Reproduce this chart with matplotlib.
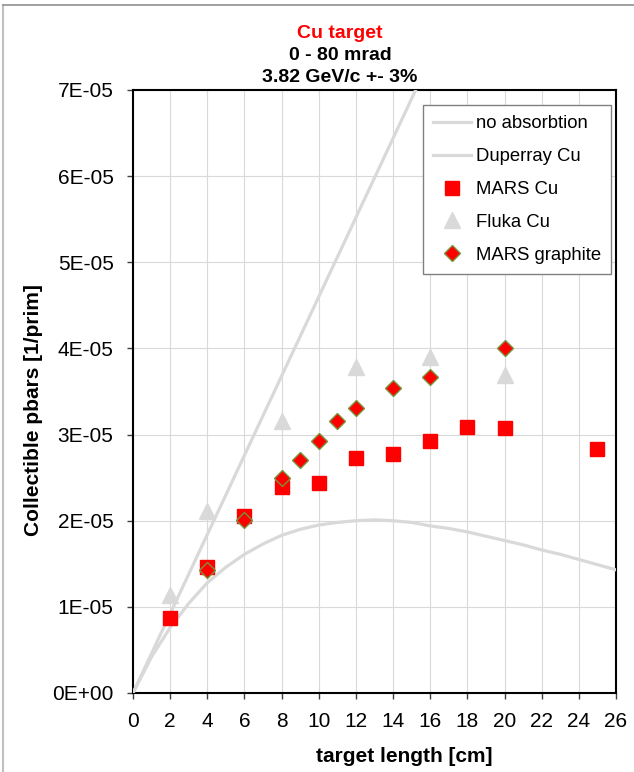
import matplotlib
matplotlib.use("Agg")
import matplotlib.pyplot as plt
from matplotlib.lines import Line2D
from matplotlib.ticker import FuncFormatter, MultipleLocator

plt.rcParams["font.family"] = ["Liberation Sans", "DejaVu Sans"]

# ── data ─────────────────────────────────────────────────────────
no_abs_x = [0, 2, 4, 6, 8, 10, 12, 14, 16]
no_abs_y = [0, 0.92e-5, 1.84e-5, 2.76e-5, 3.68e-5, 4.60e-5, 5.52e-5, 6.44e-5, 7.36e-5]

duperray_x = list(range(0, 27))
duperray_y = [0, 0.42e-5, 0.76e-5, 1.04e-5, 1.28e-5, 1.46e-5, 1.61e-5, 1.73e-5,
              1.83e-5, 1.90e-5, 1.95e-5, 1.98e-5, 2.00e-5, 2.01e-5, 2.00e-5,
              1.98e-5, 1.94e-5, 1.91e-5, 1.87e-5, 1.82e-5, 1.77e-5, 1.72e-5,
              1.66e-5, 1.61e-5, 1.55e-5, 1.49e-5, 1.43e-5]

mars_cu_x = [2, 4, 6, 8, 10, 12, 14, 16, 18, 20, 25]
mars_cu_y = [0.87e-5, 1.46e-5, 2.06e-5, 2.39e-5, 2.44e-5, 2.73e-5, 2.78e-5,
             2.92e-5, 3.09e-5, 3.08e-5, 2.83e-5]

fluka_x = [2, 4, 8, 12, 16, 20]
fluka_y = [1.14e-5, 2.11e-5, 3.16e-5, 3.79e-5, 3.90e-5, 3.69e-5]

graphite_x = [4, 6, 8, 9, 10, 11, 12, 14, 16, 20]
graphite_y = [1.43e-5, 2.01e-5, 2.50e-5, 2.71e-5, 2.93e-5, 3.16e-5, 3.31e-5,
              3.54e-5, 3.67e-5, 4.00e-5]

GRAY = "#D9D9D9"

fig = plt.figure(figsize=(6.34, 7.72), dpi=100)
ax = fig.add_axes([133 / 634, 1 - 693 / 772, 483 / 634, 603 / 772])

# outer chart frame (light gray, runs off the right/bottom edge)
fig.add_artist(Line2D([3 / 634, 3 / 634], [0, 1 - 5 / 772], transform=fig.transFigure,
                      color="#C0C0C0", lw=1.5))
fig.add_artist(Line2D([3 / 634, 1], [1 - 5 / 772, 1 - 5 / 772], transform=fig.transFigure,
                      color="#909090", lw=1.2))

ax.plot(no_abs_x, no_abs_y, color=GRAY, lw=2.3, label="no absorbtion", zorder=3)
ax.plot(duperray_x, duperray_y, color=GRAY, lw=2.3, label="Duperray Cu", zorder=3)
ax.plot(mars_cu_x, mars_cu_y, "s", color="#FF0000", ms=10, mec="#FF0000",
        label="MARS Cu", zorder=4)
ax.plot(fluka_x, fluka_y, "^", color=GRAY, ms=11, mec=GRAY, label="Fluka Cu", zorder=4)
ax.plot(graphite_x, graphite_y, "D", color="#FF0000", ms=8.5, mec="#77933C", mew=1.0,
        label="MARS graphite", zorder=5)

ax.set_xlim(0, 26)
ax.set_ylim(0, 7e-5)
ax.xaxis.set_major_locator(MultipleLocator(2))
ax.yaxis.set_major_locator(MultipleLocator(1e-5))
ax.yaxis.set_major_formatter(FuncFormatter(lambda v, p: f"{v:.0E}"))
ax.grid(True, color=GRAY, lw=0.8, zorder=0)
ax.set_axisbelow(True)
for s in ax.spines.values():
    s.set_color("black")
    s.set_linewidth(1.5)
ax.tick_params(direction="out", length=4, width=1, pad=10, labelsize=15, color="#404040")

leg = ax.legend(loc="upper right", bbox_to_anchor=(0.99, 0.975), fontsize=13.3,
                frameon=True, fancybox=False, edgecolor="#808080", framealpha=1,
                handlelength=2.05, handletextpad=0.25, labelspacing=0.86,
                borderpad=0.55, borderaxespad=0, numpoints=1)
leg.get_frame().set_linewidth(1.0)

fig.text(340 / 634, 1 - 33 / 772, "Cu target", color="#FF0000", fontsize=14,
         fontweight="bold", ha="center", va="center")
fig.text(340 / 634, 1 - 55 / 772, "0 - 80 mrad", color="black", fontsize=14,
         fontweight="bold", ha="center", va="center")
fig.text(340 / 634, 1 - 77 / 772, "3.82 GeV/c +- 3%", color="black", fontsize=14,
         fontweight="bold", ha="center", va="center")

fig.text(404 / 634, 1 - 757 / 772, "target length [cm]", fontsize=15,
         fontweight="bold", ha="center", va="center")
fig.text(34 / 634, 1 - 410 / 772, "Collectible pbars [1/prim]", fontsize=15,
         fontweight="bold", ha="center", va="center", rotation=90)

fig.savefig("out.png", dpi=100)
